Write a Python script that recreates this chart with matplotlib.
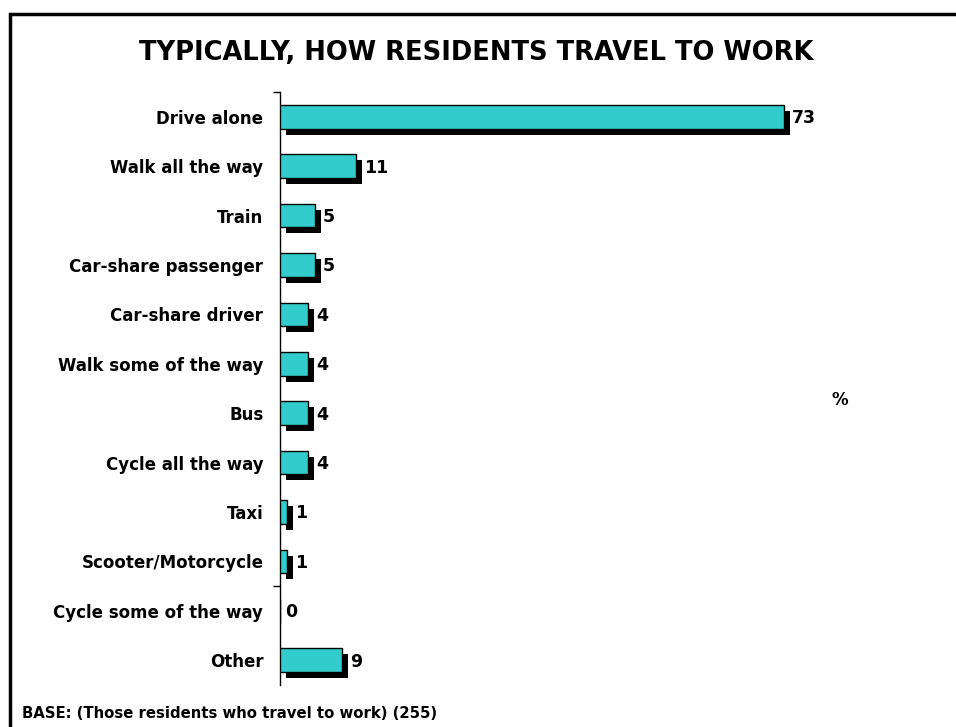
import matplotlib.pyplot as plt
from matplotlib.transforms import ScaledTranslation
from matplotlib.patches import Rectangle

# how residents get to work, % of those who travel to work
modes = ['Drive alone', 'Walk all the way', 'Train', 'Car-share passenger',
         'Car-share driver', 'Walk some of the way', 'Bus', 'Cycle all the way',
         'Taxi', 'Scooter/Motorcycle', 'Cycle some of the way', 'Other']
share = [73, 11, 5, 5, 4, 4, 4, 4, 1, 1, 0, 9]

fill = '#33CCCC'
fig = plt.figure(figsize=(9.56, 7.27), dpi=100)
plt.rcParams['font.family'] = ['DejaVu Sans']

ax = fig.add_axes([280 / 956, 1 - 685 / 727, 552 / 956, 593 / 727])
ypos = list(range(len(modes)))

# drop shadow: same bars shifted 6 px right and down
shadow = ax.transData + ScaledTranslation(6 / 100, -6 / 100, fig.dpi_scale_trans)
ax.barh(ypos, share, height=0.48, color='black', transform=shadow, zorder=2)
ax.barh(ypos, share, height=0.48, color=fill, edgecolor='black',
        linewidth=1, zorder=3)

for y, v in zip(ypos, share):
    ax.annotate(str(v), (v, y), xytext=(6 if v else 3.5, -1), textcoords='offset points',
                va='center', ha='left', fontsize=12.5, fontweight='bold')

ax.set_xlim(0, 80)
ax.set_ylim(len(modes) - 0.5, -0.5)
ax.set_yticks(ypos)
ax.set_yticklabels(modes, fontsize=12, fontweight='bold')
ax.tick_params(axis='y', length=0, pad=12)
ax.set_yticks([-0.5, 9.5], minor=True)
ax.tick_params(axis='y', which='minor', length=5, width=1)
ax.set_xticks([])
for side in ['top', 'right', 'bottom']:
    ax.spines[side].set_visible(False)
ax.spines['left'].set_linewidth(1)

fig.text(840 / 956, 1 - 400 / 727, '%', ha='center', va='center',
         fontsize=12, fontweight='bold')
fig.text(476 / 956, 1 - 53 / 727, 'TYPICALLY, HOW RESIDENTS TRAVEL TO WORK',
         ha='center', va='center', fontsize=18.5, fontweight='bold')
fig.text(22 / 956, 1 - 718 / 727, 'BASE: (Those residents who travel to work) (255)',
         ha='left', va='baseline', fontsize=10.75, fontweight='bold')

# outer frame, only the top and left edges fall inside the image
fig.patches.append(Rectangle((10 / 956, -0.1), 1.2, 1 - 14 / 727 + 0.1,
                             transform=fig.transFigure, fill=False,
                             edgecolor='black', linewidth=2.5))

fig.savefig('out.png', dpi=100)
